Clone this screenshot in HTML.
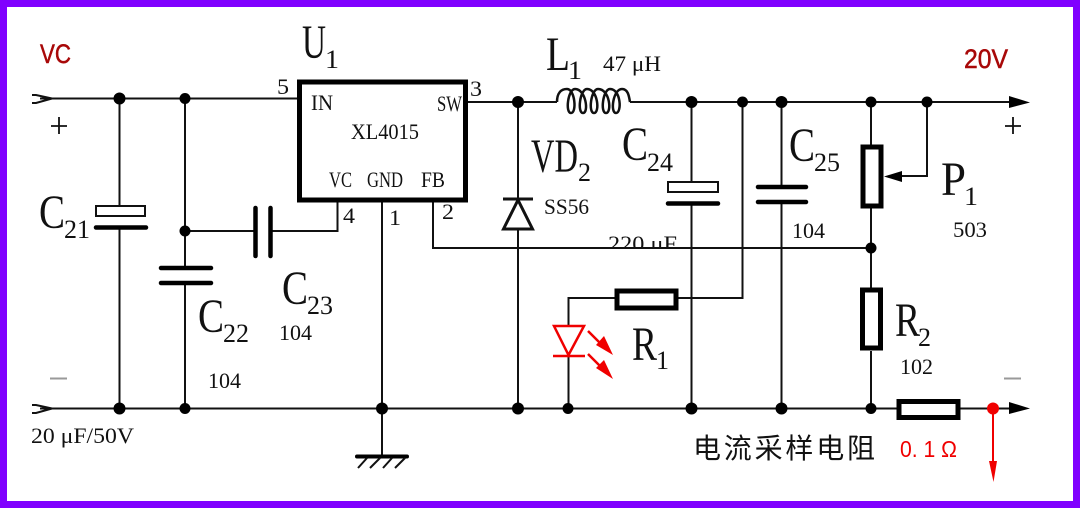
<!DOCTYPE html>
<html><head><meta charset="utf-8"><style>
html,body{margin:0;padding:0;background:#fff}
svg{display:block}
text{font-family:"Liberation Serif","Noto Serif CJK SC",serif;fill:#111}
.b{font-size:48px}.s{font-size:26px}.m{font-size:22px}
.r{font-family:"Liberation Sans",sans-serif;fill:#a80808;stroke:#a80808;stroke-width:.5px;font-size:27px}
</style></head><body>
<svg width="1080" height="508" viewBox="0 0 1080 508" xmlns="http://www.w3.org/2000/svg">
<rect width="1080" height="508" fill="#8000ff"/>
<rect x="7" y="7" width="1066" height="494" fill="#fff"/>

<text class="m" x="608" y="251" textLength="69" lengthAdjust="spacingAndGlyphs">220 μF</text>
<rect x="600" y="249" width="85" height="8" fill="#fff"/>

<g fill="none" stroke="#111" stroke-width="2">
<path d="M40 98.5H297M119.5 98V205M119.5 227V408M185 98V268M185 283V408M185 231H255M270 231H337.5V202"/>
<path d="M40 408.5H897M960 408.5H1012"/>
<path d="M468 102H557M630 102H1012"/>
<path d="M382 202V457M433 202V248H871M518 102V408"/>
<path d="M691.5 102V182M691.5 204V408M742.5 102V298H678M781.5 102V187M781.5 202V408"/>
<path d="M871 102V145M871 207V289M871 351V408M927 102V176H900"/>
<path d="M615 298H568.500V326M568.500 356V408" />
<path d="M557 102C557 93 561 89 567 89C575 89 577 113 571 113C565 113 568 89 575 89C586 89 589 113 583 113C577 113 580 89 587 89C598 89 600 113 594 113C588 113 591 89 598 89C610 89 612 113 606 113C600 113 603 89 610 89C621 89 622 113 616 113C610 113 613 89 622 89C628 89 629 96 630 102" stroke-width="2.500"/>
</g>

<!-- IC -->
<rect x="299.500" y="82" width="166" height="118" fill="none" stroke="#000" stroke-width="5"/>

<!-- C21 / C24 polarized -->
<rect x="96" y="206" width="49" height="10" fill="#fff" stroke="#111" stroke-width="2"/>
<rect x="668" y="182" width="50" height="10" fill="#fff" stroke="#111" stroke-width="2"/>
<g stroke="#000" stroke-width="4.500" stroke-linecap="round" fill="none">
<path d="M96 227.500H146M668 203.500H718"/>
<path d="M161 268H211M161 283H211"/>
<path d="M255.500 208V256M270.500 208V256"/>
<path d="M758 187H806M758 202H806"/>
</g>

<!-- diode -->
<path d="M503 199H533" stroke="#111" stroke-width="3"/>
<path d="M518 200L503.500 229H532.500Z" fill="#fff" stroke="#111" stroke-width="3"/>

<!-- resistors -->
<g fill="#fff" stroke="#000" stroke-width="5">
<rect x="617" y="291" width="59" height="17"/>
<rect x="863" y="147" width="18" height="59"/>
<rect x="862.500" y="290" width="18" height="58"/>
<rect x="899" y="401.500" width="59" height="16"/>
</g>

<!-- ground -->
<path d="M357 456.500H407" stroke="#000" stroke-width="4" stroke-linecap="round"/>
<path d="M367 458L358 468M380 458L370 468M392 458L383 468M405 458L395 468" stroke="#111" stroke-width="2"/>

<!-- dots -->
<g fill="#000">
<circle cx="119.500" cy="98.500" r="6"/><circle cx="185" cy="98.500" r="5.500"/><circle cx="185" cy="231" r="5.500"/>
<circle cx="119.500" cy="408.500" r="6"/><circle cx="185" cy="408.500" r="5.500"/>
<circle cx="382" cy="408.500" r="6"/><circle cx="518" cy="408.500" r="6"/><circle cx="568" cy="408.500" r="5.500"/>
<circle cx="691.500" cy="408.500" r="6"/><circle cx="781.500" cy="408.500" r="6"/><circle cx="871" cy="408.500" r="5.500"/>
<circle cx="518" cy="102" r="6"/><circle cx="691.500" cy="102" r="6"/><circle cx="742.500" cy="102" r="5.500"/>
<circle cx="781.500" cy="102" r="6"/><circle cx="871" cy="102" r="5.500"/><circle cx="927" cy="102" r="5.500"/>
<circle cx="871" cy="248" r="5.500"/>
</g>

<!-- arrows -->
<g fill="#000">
<path d="M1009 96V108L1030 102.500Z"/>
<path d="M1009 402V414L1030 408.500Z"/>
<path d="M884 176.500L902 171V182Z"/>
</g>
<g fill="none" stroke="#111" stroke-width="2">
<path d="M52 98.500L36 95H32M52 98.500L36 103H32"/>
<path d="M52 408.500L36 405H32M52 408.500L36 413H32"/>
</g>

<!-- LED -->
<g fill="none" stroke="#f00000" stroke-width="2.500">
<path d="M554 326H584L568.500 355Z"/>
<path d="M553 356H585"/>
<path d="M588 331L602 345M588 354L602 368"/>
</g>
<path d="M613 379L596 368L604 360Z" fill="#f00000"/>
<path d="M613 355L596 345L604 336Z" fill="#f00000"/>
<!-- red probe -->
<circle cx="993" cy="408.500" r="6" fill="#f00000"/>
<path d="M993 408V462" stroke="#f00000" stroke-width="2"/>
<path d="M989 461H997L993.500 482Z" fill="#f00000"/>

<!-- minus and plus -->
<path d="M50 378.500H67M1004 378.500H1021" stroke="#999" stroke-width="2"/>
<path d="M51 126H67M59 117V134M1005 126H1021M1013 117V134" stroke="#111" stroke-width="1.800"/>

<!-- labels -->
<text class="r" x="40" y="63" textLength="31" lengthAdjust="spacingAndGlyphs">VC</text>
<text class="r" x="964" y="68" textLength="44" lengthAdjust="spacingAndGlyphs">20V</text>

<text class="b" x="302" y="58" textLength="24" lengthAdjust="spacingAndGlyphs">U</text>
<text class="s" x="325" y="68" textLength="14" lengthAdjust="spacingAndGlyphs">1</text>
<text class="m" x="277" y="94" textLength="12" lengthAdjust="spacingAndGlyphs">5</text>
<text class="m" x="311" y="110" textLength="22" lengthAdjust="spacingAndGlyphs">IN</text>
<text class="m" x="351" y="139" textLength="68" lengthAdjust="spacingAndGlyphs">XL4015</text>
<text class="m" x="329" y="187" textLength="23" lengthAdjust="spacingAndGlyphs">VC</text>
<text class="m" x="367" y="187" textLength="36" lengthAdjust="spacingAndGlyphs">GND</text>
<text class="m" x="421" y="187" textLength="24" lengthAdjust="spacingAndGlyphs">FB</text>
<text class="m" x="437" y="111" textLength="25" lengthAdjust="spacingAndGlyphs">SW</text>
<text class="m" x="470" y="96" textLength="12" lengthAdjust="spacingAndGlyphs">3</text>
<text class="m" x="343" y="223" textLength="12" lengthAdjust="spacingAndGlyphs">4</text>
<text class="m" x="389" y="225" textLength="12" lengthAdjust="spacingAndGlyphs">1</text>
<text class="m" x="442" y="219" textLength="12" lengthAdjust="spacingAndGlyphs">2</text>

<text class="b" x="546" y="70" textLength="24" lengthAdjust="spacingAndGlyphs">L</text>
<text class="s" x="568" y="79" textLength="14" lengthAdjust="spacingAndGlyphs">1</text>
<text class="m" x="603" y="71" textLength="58" lengthAdjust="spacingAndGlyphs">47 μH</text>
<text class="b" x="531" y="172" textLength="47" lengthAdjust="spacingAndGlyphs">VD</text>
<text class="s" x="578" y="181" textLength="13" lengthAdjust="spacingAndGlyphs">2</text>
<text class="m" x="544" y="214" textLength="45" lengthAdjust="spacingAndGlyphs">SS56</text>

<text class="b" x="622" y="160" textLength="26" lengthAdjust="spacingAndGlyphs">C</text>
<text class="s" x="647" y="171" textLength="26" lengthAdjust="spacingAndGlyphs">24</text>
<text class="b" x="789" y="161" textLength="26" lengthAdjust="spacingAndGlyphs">C</text>
<text class="s" x="814" y="171" textLength="26" lengthAdjust="spacingAndGlyphs">25</text>
<text class="m" x="792" y="238" textLength="33" lengthAdjust="spacingAndGlyphs">104</text>
<text class="b" x="941" y="195" textLength="25" lengthAdjust="spacingAndGlyphs">P</text>
<text class="s" x="964" y="205" textLength="14" lengthAdjust="spacingAndGlyphs">1</text>
<text class="m" x="953" y="237" textLength="34" lengthAdjust="spacingAndGlyphs">503</text>

<text class="b" x="39" y="228" textLength="26" lengthAdjust="spacingAndGlyphs">C</text>
<text class="s" x="64" y="238" textLength="26" lengthAdjust="spacingAndGlyphs">21</text>
<text class="b" x="198" y="332" textLength="26" lengthAdjust="spacingAndGlyphs">C</text>
<text class="s" x="223" y="342" textLength="26" lengthAdjust="spacingAndGlyphs">22</text>
<text class="b" x="282" y="304" textLength="26" lengthAdjust="spacingAndGlyphs">C</text>
<text class="s" x="307" y="314" textLength="26" lengthAdjust="spacingAndGlyphs">23</text>
<text class="m" x="279" y="340" textLength="33" lengthAdjust="spacingAndGlyphs">104</text>
<text class="m" x="208" y="388" textLength="33" lengthAdjust="spacingAndGlyphs">104</text>
<text class="m" x="31" y="443" textLength="103" lengthAdjust="spacingAndGlyphs">20 μF/50V</text>

<text class="b" x="632" y="360" textLength="25" lengthAdjust="spacingAndGlyphs">R</text>
<text class="s" x="656" y="369" textLength="13" lengthAdjust="spacingAndGlyphs">1</text>
<text class="b" x="895" y="336" textLength="25" lengthAdjust="spacingAndGlyphs">R</text>
<text class="s" x="918" y="346" textLength="13" lengthAdjust="spacingAndGlyphs">2</text>
<text class="m" x="900" y="374" textLength="33" lengthAdjust="spacingAndGlyphs">102</text>

<text x="693" y="458" style="font-family:'Liberation Sans','Noto Sans CJK SC',sans-serif;font-size:28px;fill:#111" textLength="182">电流采样电阻</text>
<text x="900" y="457" style="font-family:'Liberation Sans',sans-serif;font-size:23px;fill:#f00000" textLength="57" lengthAdjust="spacingAndGlyphs">0. 1 Ω</text>
</svg>
</body></html>
